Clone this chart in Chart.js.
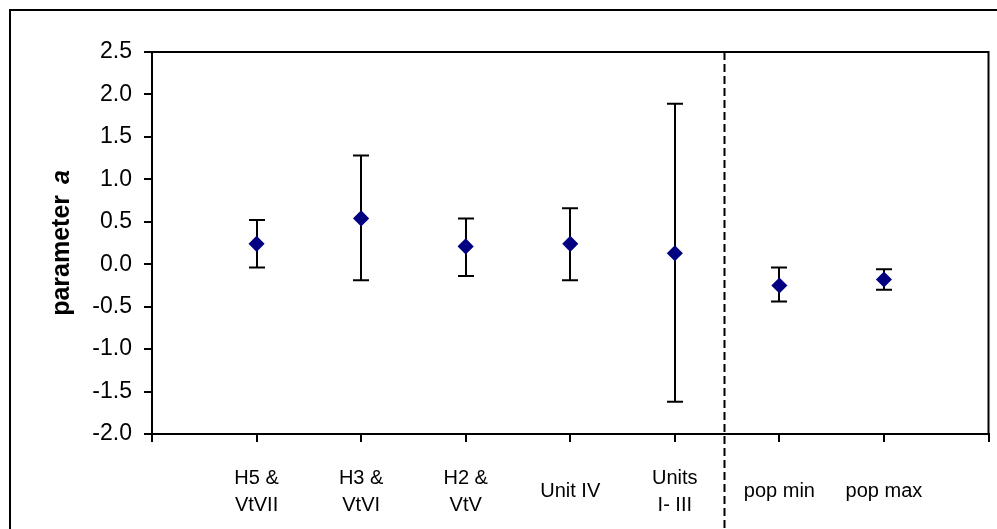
<!DOCTYPE html>
<html lang="en">
<head>
    <meta charset="UTF-8">
    <title>parameter a</title>
    <script src="https://cdn.jsdelivr.net/npm/chart.js"></script>
    <style>
        html, body {
            margin: 0;
            padding: 0;
            background: #fff;
        }
        #chart {
            display: block;
        }
    </style>
</head>
<body>
    <canvas id="chart" width="997" height="529"></canvas>

    <script>
        // data
        const categories = [['H5 &', 'VtVII'], ['H3 &', 'VtVI'], ['H2 &', 'VtV'], 'Unit IV', ['Units', 'I- III'], 'pop min', 'pop max'];
        const values = [0.24, 0.54, 0.21, 0.24, 0.13, -0.25, -0.18];
        const lower = [-0.04, -0.19, -0.14, -0.19, -1.62, -0.44, -0.30];
        const upper = [0.52, 1.28, 0.54, 0.66, 1.89, -0.04, -0.06];
        const yTicks = [-2.0, -1.5, -1.0, -0.5, 0.0, 0.5, 1.0, 1.5, 2.0, 2.5];
        const dividerAt = 5.47; // dashed separator, in x-axis units

        const points = values.map((v, i) => ({ x: i + 1, y: v }));

        // white background + outer frame
        const framePlugin = {
            id: 'frame',
            beforeDraw(chart) {
                const ctx = chart.ctx;
                ctx.save();
                ctx.fillStyle = '#fff';
                ctx.fillRect(0, 0, chart.width, chart.height);
                ctx.strokeStyle = '#000';
                ctx.lineWidth = 2;
                ctx.strokeRect(10, 10, chart.width + 20, chart.height + 20);
                ctx.restore();
            }
        };

        // plot box, dashed divider and error bars (under the markers)
        const errorBarPlugin = {
            id: 'errorBars',
            beforeDatasetsDraw(chart) {
                const ctx = chart.ctx;
                const area = chart.chartArea;
                const x = chart.scales.x;
                const y = chart.scales.y;
                ctx.save();
                ctx.strokeStyle = '#000';
                ctx.lineWidth = 2;
                ctx.strokeRect(area.left, area.top, area.right - area.left, area.bottom - area.top);

                // divider
                const dx = Math.round(x.getPixelForValue(dividerAt)) + 0.5;
                ctx.setLineDash([8, 4]);
                ctx.beginPath();
                ctx.moveTo(dx, area.top);
                ctx.lineTo(dx, chart.height);
                ctx.stroke();
                ctx.setLineDash([]);

                // error bars
                values.forEach((v, i) => {
                    const px = Math.round(x.getPixelForValue(i + 1));
                    const yl = y.getPixelForValue(lower[i]);
                    const yu = y.getPixelForValue(upper[i]);
                    ctx.beginPath();
                    ctx.moveTo(px, yl);
                    ctx.lineTo(px, yu);
                    ctx.moveTo(px - 8, yl);
                    ctx.lineTo(px + 8, yl);
                    ctx.moveTo(px - 8, yu);
                    ctx.lineTo(px + 8, yu);
                    ctx.stroke();
                });
                ctx.restore();
            }
        };

        // y title: "parameter " bold + "a" bold italic
        const yTitlePlugin = {
            id: 'yTitle',
            afterDraw(chart) {
                const ctx = chart.ctx;
                const area = chart.chartArea;
                const cy = (area.top + area.bottom) / 2;
                const part1 = 'parameter ';
                const part2 = 'a';
                const font1 = 'bold 25px "Liberation Sans", Arial, sans-serif';
                const font2 = 'italic bold 25px "Liberation Sans", Arial, sans-serif';
                ctx.save();
                ctx.translate(62, cy);
                ctx.rotate(-Math.PI / 2);
                ctx.fillStyle = '#000';
                ctx.textBaseline = 'middle';
                ctx.textAlign = 'left';
                ctx.font = font1;
                const w1 = ctx.measureText(part1).width + 4;
                ctx.font = font2;
                const w2 = ctx.measureText(part2).width;
                const start = -(w1 + w2) / 2;
                ctx.font = font1;
                ctx.fillText(part1, start, 0);
                ctx.font = font2;
                ctx.fillText(part2, start + w1, 0);
                ctx.restore();
            }
        };

        new Chart(document.getElementById('chart'), {
            type: 'scatter',
            data: {
                datasets: [{
                    data: points,
                    pointStyle: 'rectRot',
                    pointRadius: 7,
                    pointHoverRadius: 7,
                    backgroundColor: '#000080',
                    borderColor: '#000080',
                    borderWidth: 1.5
                }]
            },
            options: {
                responsive: false,
                animation: false,
                layout: {
                    padding: { left: 0, top: 52, right: 4, bottom: 0 }
                },
                plugins: {
                    legend: { display: false },
                    tooltip: { enabled: false }
                },
                scales: {
                    x: {
                        type: 'linear',
                        min: 0,
                        max: 8,
                        afterBuildTicks: (scale) => {
                            scale.ticks = [0, 1, 2, 3, 4, 5, 6, 7, 8].map(v => ({ value: v }));
                        },
                        afterFit: (scale) => {
                            scale.height = 95;
                            scale.paddingLeft = 0;
                            scale.paddingRight = 0;
                        },
                        grid: {
                            drawOnChartArea: false,
                            drawTicks: true,
                            tickLength: 8,
                            color: '#000',
                            lineWidth: 2
                        },
                        border: { display: true, color: '#000', width: 2 },
                        ticks: {
                            autoSkip: false,
                            maxRotation: 0,
                            minRotation: 0,
                            crossAlign: 'center',
                            padding: 36,
                            color: '#000',
                            font: { family: '"Liberation Sans", Arial, sans-serif', size: 20, lineHeight: 1.35 },
                            callback: (v) => categories[v - 1] || ''
                        }
                    },
                    y: {
                        min: -2,
                        max: 2.5,
                        afterBuildTicks: (scale) => {
                            scale.ticks = yTicks.map(v => ({ value: v }));
                        },
                        afterFit: (scale) => {
                            scale.width = 152;
                            scale.paddingTop = 0;
                            scale.paddingBottom = 0;
                        },
                        grid: {
                            drawOnChartArea: false,
                            drawTicks: true,
                            tickLength: 8,
                            color: '#000',
                            lineWidth: 2
                        },
                        border: { display: true, color: '#000', width: 2 },
                        ticks: {
                            padding: 12,
                            color: '#000',
                            font: { family: '"Liberation Sans", Arial, sans-serif', size: 23 },
                            callback: (v) => Number(v).toFixed(1)
                        }
                    }
                }
            },
            plugins: [framePlugin, errorBarPlugin, yTitlePlugin]
        });
    </script>
</body>
</html>
